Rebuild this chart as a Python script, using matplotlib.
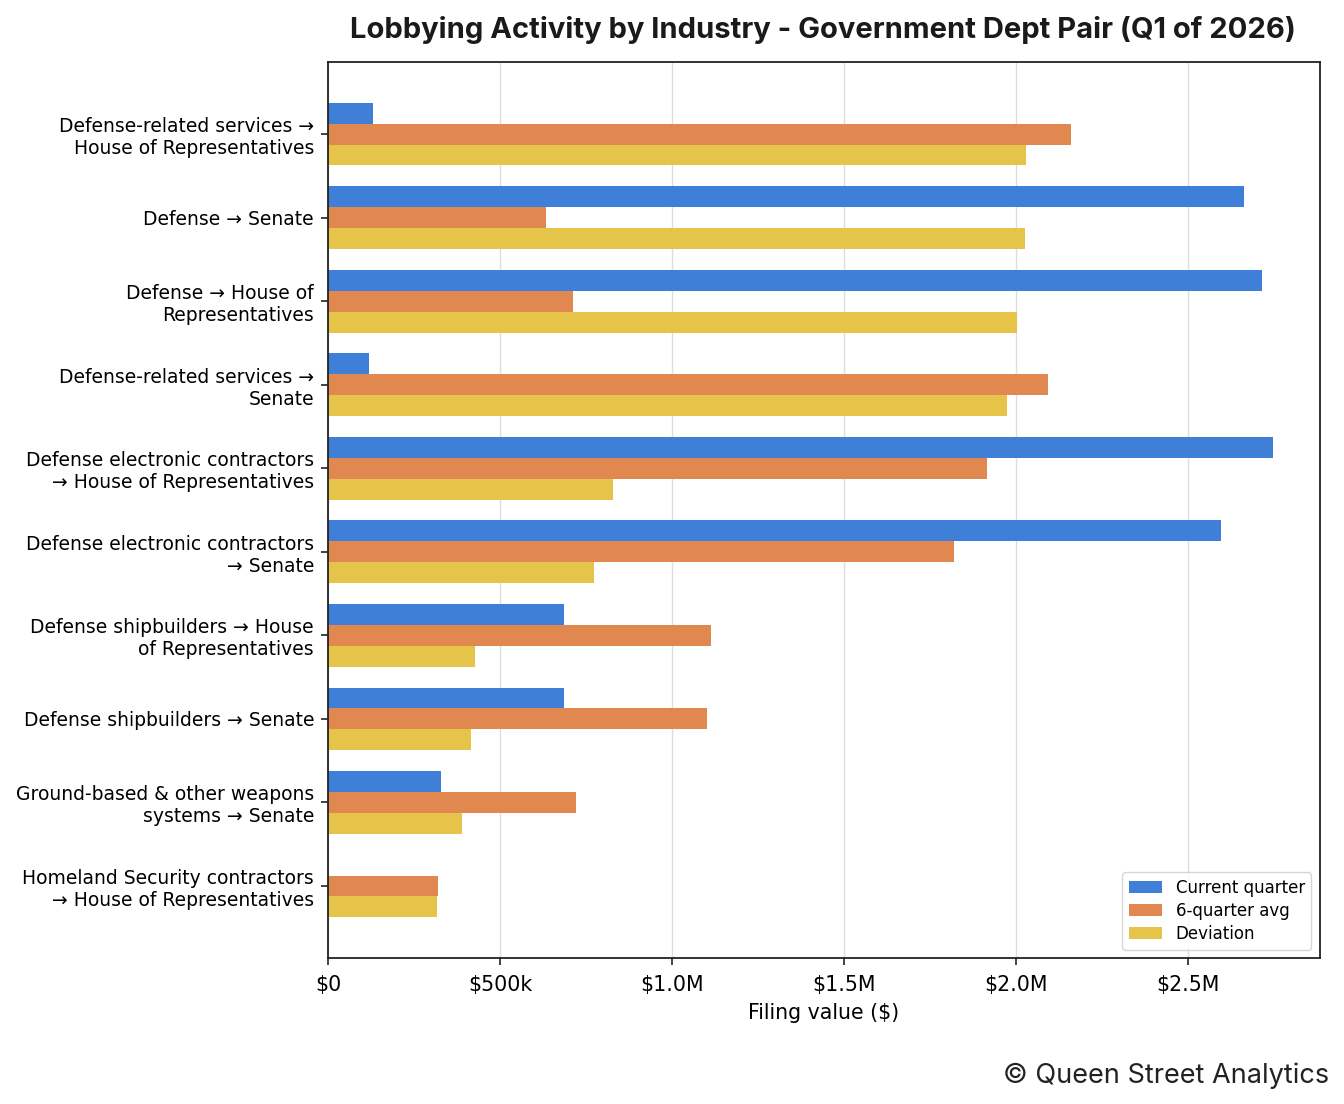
import numpy as np
import matplotlib
matplotlib.use("Agg")
import matplotlib.pyplot as plt
from matplotlib.ticker import FuncFormatter

# data (values in $M)
categories = [
    "Defense-related services →\nHouse of Representatives",
    "Defense → Senate",
    "Defense → House of\nRepresentatives",
    "Defense-related services →\nSenate",
    "Defense electronic contractors\n→ House of Representatives",
    "Defense electronic contractors\n→ Senate",
    "Defense shipbuilders → House\nof Representatives",
    "Defense shipbuilders → Senate",
    "Ground-based & other weapons\nsystems → Senate",
    "Homeland Security contractors\n→ House of Representatives",
]
current_quarter = [0.131, 2.663, 2.715, 0.119, 2.747, 2.596, 0.686, 0.686, 0.328, 0.0]
six_quarter_avg = [2.160, 0.634, 0.712, 2.093, 1.916, 1.820, 1.113, 1.102, 0.721, 0.320]
deviation = [2.029, 2.026, 2.003, 1.974, 0.828, 0.773, 0.427, 0.416, 0.390, 0.317]

series_names = ["Current quarter", "6-quarter avg", "Deviation"]
colors = ["#3F7FD8", "#E0884F", "#E6C44A"]


def money(v, pos):
    if v == 0:
        return "$0"
    if v < 1:
        return f"${v * 1000:.0f}k"
    return f"${v:.1f}M"


fig = plt.figure(figsize=(13.44, 11.04), dpi=100)
ax = fig.add_axes([0.244, 0.1322, 0.738, 0.8116])

y = np.arange(len(categories))
h = 0.25
for i, (vals, name, c) in enumerate(zip([current_quarter, six_quarter_avg, deviation], series_names, colors)):
    ax.barh(y + (i - 1) * h, vals, height=h, color=c, label=name, zorder=2)

ax.set_yticks(y)
ax.set_yticklabels(categories, fontsize=13.5)
ax.invert_yaxis()
ax.set_xlim(left=0)
ax.xaxis.set_major_locator(plt.MultipleLocator(0.5))
ax.xaxis.set_major_formatter(FuncFormatter(money))
ax.tick_params(axis="x", labelsize=14.8, length=5, width=1.2, color="#222222", pad=7)
ax.tick_params(axis="y", length=5, width=1.2, color="#222222", pad=5)
ax.grid(axis="x", color="#dddddd", linewidth=1, zorder=0)
ax.set_axisbelow(True)
for s in ax.spines.values():
    s.set_color("#222222")
    s.set_linewidth(1.3)

ax.set_xlabel("Filing value ($)", fontsize=14.8, labelpad=6)
ax.legend(loc="lower right", fontsize=12, labelspacing=0.3, frameon=True,
          fancybox=True, edgecolor="#cccccc", borderaxespad=0.5)

fig.text(0.612, 0.973, "Lobbying Activity by Industry - Government Dept Pair (Q1 of 2026)",
         ha="center", va="center", fontsize=21, fontweight="bold", family="Inter", color="#1a1a1a")
fig.text(0.989, 0.026, "© Queen Street Analytics", ha="right", va="center",
         fontsize=19.5, family="Inter", color="#222222")

fig.savefig("out.png", dpi=100)
